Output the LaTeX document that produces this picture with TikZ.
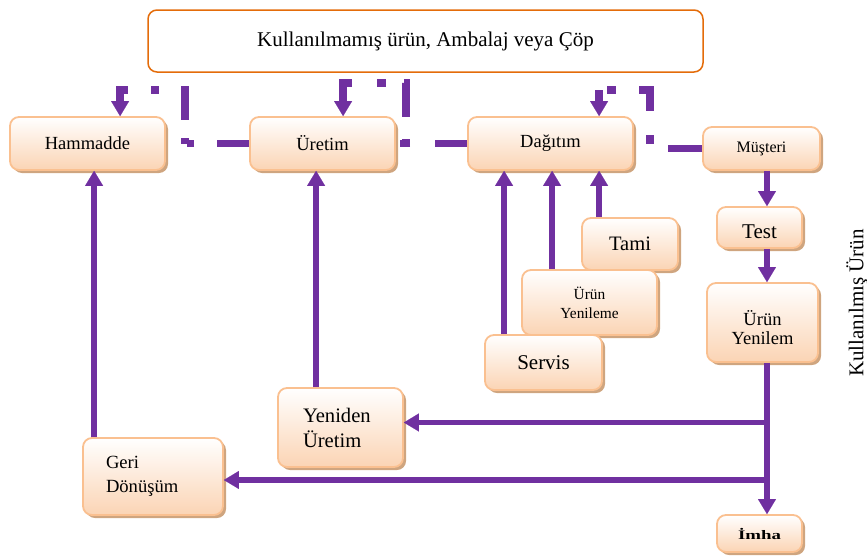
\documentclass[tikz,border=0pt]{standalone}
\usepackage{graphicx}
\usepackage{fontspec}
\setmainfont{Liberation Serif}
\usetikzlibrary{arrows.meta,shadows}
\definecolor{purp}{HTML}{7030A0}
\definecolor{boxedge}{HTML}{FAC090}
\definecolor{boxfill}{HTML}{FBD4B4}
\definecolor{boxshade}{HTML}{CFA57F}
\definecolor{topedge}{HTML}{E46C0A}
\begin{document}
\begin{tikzpicture}[x=1pt,y=1pt,
  box/.style={rectangle, rounded corners=9pt, draw=boxedge, line width=1.8pt,
    top color=white, bottom color=boxfill,
    drop shadow={shadow xshift=3pt, shadow yshift=-3pt, fill=boxshade, opacity=1},
    align=center, inner sep=2pt},
  leftbox/.style={box, align=left},
  topbox/.style={rectangle, rounded corners=9pt, draw=topedge, line width=1.5pt, fill=white},
  ptip/.tip={Triangle[length=15pt,width=18pt,line width=0.1pt]},
  arr/.style={draw=purp, line width=5.5pt, -ptip},
  dd/.style={draw=purp, line width=7.5pt},
  ddarr/.style={dd, ptip-},
]
\useasboundingbox (0,0) rectangle (867,-557);

% header box
\node[topbox, minimum width=555pt, minimum height=62pt, font=\fontsize{21}{25}\selectfont]
  (top) at (425.5,-41) {Kullanılmamış ürün, Ambalaj veya Çöp};

% main chain
\node[box, minimum width=155pt, minimum height=53pt, font=\fontsize{18.5}{22}\selectfont]
  (ham) at (87.5,-143.5) {Hammadde};
\node[box, minimum width=145pt, minimum height=53pt, font=\fontsize{18.5}{22}\selectfont]
  (ure) at (322.5,-143.5) {Üretim};
\node[box, minimum width=165pt, minimum height=53pt, font=\fontsize{18.5}{22}\selectfont]
  (dag) at (550.5,-143.5) {Dağıtım};
\node[box, minimum width=117pt, minimum height=43pt, font=\fontsize{16}{19}\selectfont]
  (mus) at (761.5,-148.5) {Müşteri};

% used product column
\node[box, minimum width=85pt, minimum height=41pt, font=\fontsize{21}{25}\selectfont]
  (test) at (759.5,-227.5) {\raisebox{-4pt}[\height][\depth]{Test}};
\node[box, minimum width=111pt, minimum height=79pt, font=\fontsize{18.5}{18.5}\selectfont]
  (uyl) at (762.5,-322.5)
  {\raisebox{-8pt}[\height][\depth]{\begin{tabular}{@{}c@{}}Ürün\\Yenilem\end{tabular}}};
\node[box, minimum width=85pt, minimum height=37pt, font=\bfseries\fontsize{13}{15}\selectfont]
  (imha) at (759.5,-533.5) {\scalebox{1.45}[1]{İmha}};
\node[rotate=90, font=\fontsize{21}{25}\selectfont] (kul) at (857,-303) {Kullanılmış Ürün};

% services feeding distribution
\node[box, minimum width=96pt, minimum height=52pt, font=\fontsize{20.5}{24}\selectfont]
  (tami) at (630,-244) {Tami};
\node[box, minimum width=135pt, minimum height=65pt, font=\fontsize{15.4}{19}\selectfont]
  (uy) at (589.5,-302.5) {Ürün\\Yenileme};
\node[box, minimum width=117pt, minimum height=55pt, font=\fontsize{21}{25}\selectfont]
  (servis) at (543.5,-362.5) {Servis};

% recovery boxes
\node[leftbox, inner xsep=25pt, text width=75pt, minimum height=79pt,
  font=\fontsize{20.6}{25}\selectfont] (yen) at (340.5,-427.5) {Yeniden\\Üretim};
\node[leftbox, inner xsep=23pt, text width=94pt, minimum height=77pt,
  font=\fontsize{18.6}{24}\selectfont] (geri) at (153,-476.5) {Geri\\Dönüşüm};

% spine of the used product column
\coordinate (sp) at (767,-300);
\draw[arr] (mus.south -| sp) -- (test.north -| sp);
\draw[arr] (test.south -| sp) -- (uyl.north -| sp);
\draw[arr] (uyl.south -| sp) -- (imha.north -| sp);
\coordinate (yin) at ([yshift=5pt]yen.east);
\coordinate (gin) at ([yshift=-3.5pt]geri.east);
\draw[arr] (sp |- yin) -- (yin);
\draw[arr] (sp |- gin) -- (gin);

% upward feeds
\coordinate (g1) at ([xshift=12pt]geri.north west);
\draw[arr] (g1) -- (g1 |- ham.south);
\coordinate (y1) at ([xshift=39pt]yen.north west);
\draw[arr] (y1) -- (y1 |- ure.south);
\coordinate (s1) at ([xshift=20pt]servis.north west);
\draw[arr] (s1) -- (s1 |- dag.south);
\coordinate (u1) at ([xshift=31pt]uy.north west);
\draw[arr] (u1) -- (u1 |- dag.south);
\coordinate (t1) at ([xshift=18pt]tami.north west);
\draw[arr] (t1) -- (t1 |- dag.south);

% dash-dot links along the chain
\coordinate (h1) at ([xshift=111pt]ham.north west);
\coordinate (h2) at ([xshift=176pt,yshift=26pt]ham.north west);
\draw[ddarr, dash pattern=on 19pt off 23pt on 8pt off 22pt on 34pt off 18pt on 10pt off 10pt]
  (h1) |- (h2) -- (h2 |- ham.east);
\coordinate (e1) at ([xshift=94pt]ure.north west);
\coordinate (e2) at ([xshift=157pt,yshift=33pt]ure.north west);
\draw[ddarr, dash pattern=on 27pt off 25pt on 9pt off 18pt on 36pt off 22pt on 10pt off 10pt]
  (e1) |- (e2) -- (e2 |- ure.east);
\coordinate (d1) at ([xshift=132pt]dag.north west);
\coordinate (d2) at ([xshift=183pt,yshift=26pt]dag.north west);
\draw[ddarr, dash pattern=on 11pt off 8pt on 9pt off 23pt on 32pt off 24pt on 10pt off 10pt]
  (d1) |- (d2) -- (d2 |- dag.east);

\draw[dd, dash pattern=on 32pt off 23pt on 7pt off 30pt] (ure.west) -- (ham.east);
\draw[dd, dash pattern=on 32pt off 25pt on 10pt off 20pt] (dag.west) -- (ure.east);
\draw[dd, dash pattern=on 34pt off 30pt] (mus.west) -- (d2 |- mus.west);
\end{tikzpicture}
\end{document}
